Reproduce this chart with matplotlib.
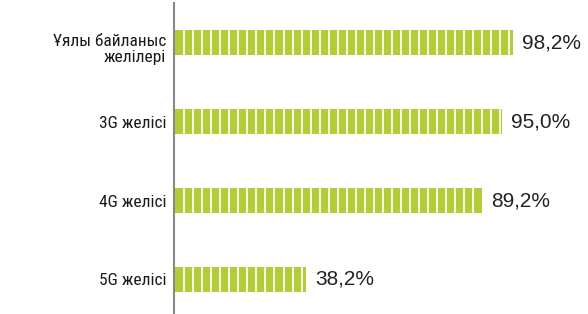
import numpy as np
import matplotlib.pyplot as plt

labels = ['Ұялы байланыс\nжелілері', '3G желісі', '4G желісі', '5G желісі']
values = [98.2, 95.0, 89.2, 38.2]
value_text = ['98,2%', '95,0%', '89,2%', '38,2%']

bar_color = '#b5cc3a'
stripe_step = 2.62
bar_h = 0.32
label_font = ['Roboto Condensed', 'DejaVu Sans']

fig = plt.figure(figsize=(5.88, 3.14), dpi=100)
ax = fig.add_axes([0.296, 0.0, 0.585, 0.990])

y = np.arange(len(values))
ax.barh(y, values, height=bar_h, color=bar_color, left=0.3)

# white vertical stripes inside each bar
for yi, v in zip(y, values):
    xs = np.arange(3.0, v, stripe_step)
    ax.vlines(xs, yi - bar_h / 2, yi + bar_h / 2, color='white', lw=1.2)
    ax.annotate(value_text[yi], (v + 0.3, yi), xytext=(6.5, 0),
                textcoords='offset points', va='center', ha='left',
                fontsize=15, color='#222222',
                family=['Liberation Sans', 'DejaVu Sans'])

ax.set_xlim(0, 100)
ax.set_ylim(3.437, -0.5)
ax.set_yticks(y)
# the two-line label sits a bit lower than its bar, drawn separately
ax.set_yticklabels([''] + labels[1:], family=label_font,
                   fontsize=12.5, color='#1a1a1a')
ax.annotate(labels[0], (0, y[0]), xytext=(-5.5, -5),
            textcoords='offset points', ha='right', va='center',
            family=label_font, fontsize=12.5, color='#1a1a1a',
            linespacing=1.12, annotation_clip=False)
ax.tick_params(axis='y', length=0, pad=5.5)
ax.set_xticks([])
for s in ['top', 'right', 'bottom']:
    ax.spines[s].set_visible(False)
ax.spines['left'].set_color('#888888')
ax.spines['left'].set_linewidth(1.5)

fig.savefig('out.png', dpi=100)
